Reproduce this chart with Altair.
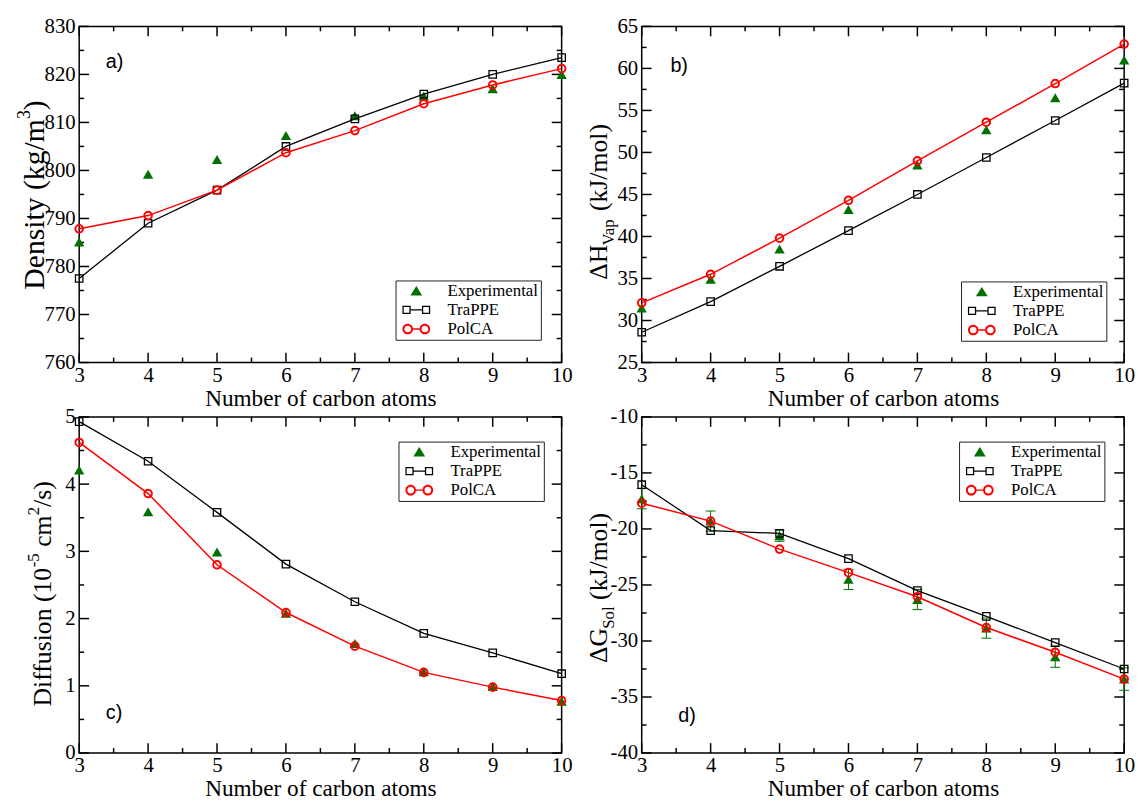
import altair as alt
import pandas as pd

# ---------------- data ----------------
carbon = [3, 4, 5, 6, 7, 8, 9, 10]
x_major = [3, 4, 5, 6, 7, 8, 9, 10]
x_minor = [3.5, 4.5, 5.5, 6.5, 7.5, 8.5, 9.5]
series_names = ["Experimental", "TraPPE", "PolCA"]

dens_exp = [785.1, 799.2, 802.3, 807.3, 811.4, 815.5, 817.0, 820.0]
dens_trappe = [777.5, 789.0, 795.9, 805.0, 810.75, 815.9, 820.0, 823.5]
dens_polca = [787.85, 790.6, 795.9, 803.7, 808.3, 813.9, 817.8, 821.2]
dens_major = [760, 770, 780, 790, 800, 810, 820, 830]
dens_minor = [765, 775, 785, 795, 805, 815, 825]

hvap_exp = [31.5, 34.9, 38.5, 43.2, 48.5, 52.7, 56.5, 61.0]
hvap_trappe = [28.6, 32.25, 36.45, 40.7, 45.0, 49.4, 53.8, 58.25]
hvap_polca = [32.1, 35.5, 39.8, 44.3, 49.0, 53.6, 58.2, 62.9]
hvap_major = [25, 30, 35, 40, 45, 50, 55, 60, 65]
hvap_minor = [27.5, 32.5, 37.5, 42.5, 47.5, 52.5, 57.5, 62.5]

diff_exp = [4.21, 3.59, 2.99, 2.08, 1.63, 1.21, 0.99, 0.77]
diff_trappe = [4.93, 4.34, 3.58, 2.81, 2.25, 1.78, 1.49, 1.18]
diff_polca = [4.62, 3.86, 2.80, 2.09, 1.59, 1.20, 0.98, 0.78]
diff_major = [0, 1, 2, 3, 4, 5]
diff_minor = [0.5, 1.5, 2.5, 3.5, 4.5]

gsol_exp = [-17.3, -19.3, -20.6, -24.5, -26.3, -28.85, -31.4, -33.4]
gsol_err = [0.9, 0.9, 0.5, 0.9, 0.9, 0.9, 0.95, 1.0]
gsol_trappe = [-16.05, -20.15, -20.4, -22.65, -25.5, -27.8, -30.15, -32.5]
gsol_polca = [-17.7, -19.3, -21.8, -23.9, -26.05, -28.8, -31.0, -33.4]
gsol_major = [-40, -35, -30, -25, -20, -15, -10]
gsol_minor = [-37.5, -32.5, -27.5, -22.5, -17.5, -12.5]

# ---------------- style ----------------
W, H = 488, 340
SERIF = "Liberation Serif"
SANS = "Liberation Sans"
GREEN = "#007000"
MAJ, MINL = 10, 5
TICKC, TICKW = "black", 1.5

# legend symbols (custom paths, filled, with holes)
TRI = "M0,-0.58L0.7,0.54L-0.7,0.54Z"
SQ = ("M-1.65,-0.49H-0.67V0.49H-1.65Z M-1.5,-0.34V0.34H-0.82V-0.34Z "
      "M-0.67,-0.08H0.67V0.08H-0.67Z "
      "M0.67,-0.49H1.65V0.49H0.67Z M0.82,-0.34V0.34H1.5V-0.34Z")
CIRC = ("M-1.65,0A0.63,0.63 0 1,1 -0.39,0A0.63,0.63 0 1,1 -1.65,0Z "
        "M-1.42,0A0.4,0.4 0 1,0 -0.62,0A0.4,0.4 0 1,0 -1.42,0Z "
        "M-0.39,-0.08H0.39V0.08H-0.39Z "
        "M0.39,0A0.63,0.63 0 1,1 1.65,0A0.63,0.63 0 1,1 0.39,0Z "
        "M0.62,0A0.4,0.4 0 1,0 1.42,0A0.4,0.4 0 1,0 0.62,0Z")

one = pd.DataFrame({"k": [0]})


def panel(key, exp, trappe, polca, ydom, ymaj, ymin, label, label_xy,
          title_pieces, legend_xy, err=None):
    xs = alt.Scale(domain=[3, 10], nice=False, zero=False)
    ys = alt.Scale(domain=ydom, nice=False, zero=False)
    xaxis = alt.Axis(values=x_major, title="Number of carbon atoms", ticks=False,
                     domain=False, grid=False, labelExpr="'' + datum.value",
                     labelPadding=2, titlePadding=1, labelFlush=False)
    yaxis = alt.Axis(values=ymaj, title=None, ticks=False, domain=False, grid=False,
                     labelExpr="'' + datum.value", labelPadding=4, labelFlush=False)

    def X(f):
        return alt.X(f, type="quantitative", scale=xs, axis=xaxis)

    def Y(f):
        return alt.Y(f, type="quantitative", scale=ys, axis=yaxis)

    df = pd.DataFrame({"n": carbon, "exp": exp, "trappe": trappe, "polca": polca})
    layers = []
    # inward ticks on all four sides (rules anchored to the scale edges)
    ybot, ytop = ydom[0], ydom[1]
    for vals, L in ((x_major, MAJ), (x_minor, MINL)):
        d = pd.DataFrame({"v": vals, "yb": [ybot] * len(vals), "yt": [ytop] * len(vals)})
        layers.append(alt.Chart(d).mark_rule(color=TICKC, strokeWidth=TICKW).encode(
            x=X("v"), y=Y("yb"), y2=alt.value(H - L)))
        layers.append(alt.Chart(d).mark_rule(color=TICKC, strokeWidth=TICKW).encode(
            x=X("v"), y=Y("yt"), y2=alt.value(L)))
    for vals, L in ((ymaj, MAJ), (ymin, MINL)):
        d = pd.DataFrame({"v": vals, "xl": [3] * len(vals), "xr": [10] * len(vals)})
        layers.append(alt.Chart(d).mark_rule(color=TICKC, strokeWidth=TICKW).encode(
            y=Y("v"), x=X("xl"), x2=alt.value(L)))
        layers.append(alt.Chart(d).mark_rule(color=TICKC, strokeWidth=TICKW).encode(
            y=Y("v"), x=X("xr"), x2=alt.value(W - L)))

    if err is not None:
        df["lo"] = [e - s for e, s in zip(exp, err)]
        df["hi"] = [e + s for e, s in zip(exp, err)]
        layers.append(alt.Chart(df).mark_rule(color=GREEN, strokeWidth=1).encode(
            x=X("n"), y=Y("lo"), y2=alt.Y2("hi")))
        for f in ("lo", "hi"):
            layers.append(alt.Chart(df).mark_tick(color=GREEN, thickness=1, size=10,
                                                  orient="horizontal", opacity=1).encode(
                x=X("n"), y=Y(f)))

    layers.append(alt.Chart(df).mark_point(shape="triangle-up", filled=True, color=GREEN,
                                           size=110, opacity=1).encode(x=X("n"), y=Y("exp")))
    layers.append(alt.Chart(df).mark_line(color="black", strokeWidth=1.3).encode(
        x=X("n"), y=Y("trappe")))
    layers.append(alt.Chart(df).mark_point(shape="square", filled=False, color="black",
                                           strokeWidth=1.3, size=56, opacity=1).encode(
        x=X("n"), y=Y("trappe")))
    layers.append(alt.Chart(df).mark_line(color="red", strokeWidth=1.5).encode(
        x=X("n"), y=Y("polca")))
    layers.append(alt.Chart(df).mark_point(shape="circle", filled=False, color="red",
                                           strokeWidth=2, size=59, opacity=1).encode(
        x=X("n"), y=Y("polca")))

    # legend
    leg = alt.Legend(title=None, orient="none", legendX=legend_xy[0], legendY=legend_xy[1],
                     symbolSize=289, symbolOpacity=1, symbolStrokeWidth=0,
                     symbolOffset=10.5, labelOffset=23, labelFont=SERIF, labelFontSize=17,
                     labelColor="black", padding=2, rowPadding=1.3, strokeColor="#222222",
                     fillColor="white", labelLimit=0)
    field = "series_" + key + ":N"
    leg_df = pd.DataFrame({"series_" + key: series_names})
    layers.append(alt.Chart(leg_df).mark_point(filled=True, opacity=0).encode(
        x=alt.value(0), y=alt.value(0),
        color=alt.Color(field, scale=alt.Scale(domain=series_names,
                                               range=[GREEN, "black", "red"]), legend=leg),
        shape=alt.Shape(field, scale=alt.Scale(domain=series_names,
                                               range=[TRI, SQ, CIRC]), legend=leg)))

    # panel label
    layers.append(alt.Chart(one).mark_text(font=SANS, fontSize=20, align="left",
                                           baseline="alphabetic", color="black").encode(
        x=alt.value(label_xy[0]), y=alt.value(label_xy[1]), text=alt.value(label)))

    # y title pieces (rotated)
    for txt, tx, ty, fs in title_pieces:
        layers.append(alt.Chart(one).mark_text(font=SERIF, fontSize=fs, angle=270,
                                               align="left", baseline="alphabetic",
                                               color="black").encode(
            x=alt.value(tx), y=alt.value(ty), text=alt.value(txt)))

    return alt.layer(*layers).properties(width=W, height=H)


pa = panel("a", dens_exp, dens_trappe, dens_polca, [760, 830], dens_major, dens_minor,
           "a)", (27, 42),
           [("Density (kg/m", -36, 266.3, 30), ("3", -50, 93.8, 18), (")", -36, 84.8, 30)],
           (320, 257))
pb = panel("b", hvap_exp, hvap_trappe, hvap_polca, [25, 65], hvap_major, hvap_minor,
           "b)", (29, 46),
           [("\u0394H", -35, 256.3, 26), ("Vap", -28, 221.6, 17), ("(kJ/mol)", -35, 186.8, 26)],
           (323, 258))
pc = panel("c", diff_exp, diff_trappe, diff_polca, [0, 5], diff_major, diff_minor,
           "c)", (27, 306),
           [("Diffusion (10", -28, 292.9, 26), ("-5", -41, 152.1, 17), ("cm", -28, 131.4, 26),
            ("2", -41, 99.6, 17), ("/s)", -28, 91.1, 26)],
           (323, 25))
pd_ = panel("d", gsol_exp, gsol_trappe, gsol_polca, [-40, -10], gsol_major, gsol_minor,
            "d)", (37, 309),
            [("\u0394G", -35, 249, 26), ("Sol", -28, 214.3, 17), ("(kJ/mol)", -35, 185.1, 26)],
            (321, 25), err=gsol_err)

chart = alt.concat(pa, pb, pc, pd_, columns=2, spacing={"row": 55, "column": 81},
                   bounds="flush").resolve_scale(
    color="independent", shape="independent").properties(
    padding={"left": 7, "top": 2, "right": 2, "bottom": 2}
).configure_view(stroke="black", strokeWidth=1.5).configure_axis(
    labelFont=SERIF, labelFontSize=21, labelColor="black",
    titleFont=SERIF, titleFontSize=23.5, titleFontWeight="normal", titleColor="black"
)

chart.save("out.html", embed_options={"renderer": "svg", "actions": False})
